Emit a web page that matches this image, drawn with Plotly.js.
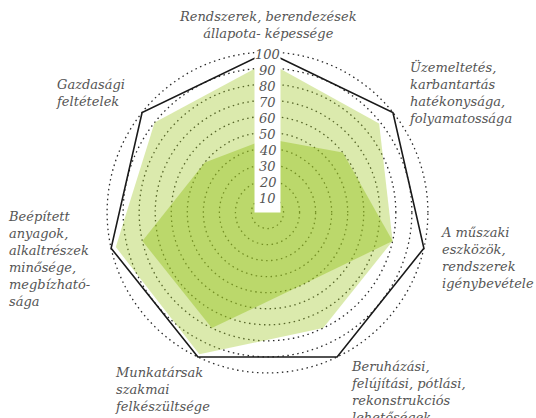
<!DOCTYPE html>
<html>
<head>
<meta charset="utf-8">
<script src="https://cdn.plot.ly/plotly-3.0.1.min.js"></script>
<style>html,body{margin:0;padding:0;background:#fff;}#chart{width:536px;height:418px;}</style>
</head>
<body>
<div id="chart"></div>
<script>
// ---- data ----
const categories = [
  "Rendszerek, berendezések<br>állapota- képessége",
  "Üzemeltetés,<br>karbantartás<br>hatékonysága,<br>folyamatossága",
  "A műszaki<br>eszközök,<br>rendszerek<br>igénybevétele",
  "Beruházási,<br>felújítási, pótlási,<br>rekonstrukciós<br>lehetőségek",
  "Munkatársak<br>szakmai<br>felkészültsége",
  "Beépített<br>anyagok,<br>alkaltrészek<br>minősége,<br>megbízható-<br>sága",
  "Gazdasági<br>feltételek"
];
const seriesOuter = [94, 89, 80, 80, 98, 97, 90];
const seriesInner = [46, 60, 80, 50, 80, 80, 50];
const seriesMax   = [100, 100, 100, 100, 100, 100, 100];
const tickVals    = [10, 20, 30, 40, 50, 60, 70, 80, 90, 100];
const tickText    = ["10", "20", "30", "40", "50", "60", "70", "80", "90", "100"];

// ---- layout constants ----
const W = 536, H = 418;
const RMAX = 101.3;
const cx = 267.5, cy = 212.5, rad = 162.5;
const domX = [(cx - rad) / W, (cx + rad) / W];
const domY = [1 - (cy + rad) / H, 1 - (cy - rad) / H];
const labelFont = {family: "DejaVu Serif", size: 13, color: "#555555", style: "italic"};
// label anchor positions in pixels: [x, y, xanchor]
const labelPos = [
  [268, 7, "center"],
  [407, 57, "left"],
  [439, 223, "left"],
  [349, 357, "left"],
  [113, 363, "left"],
  [6, 207, "left"],
  [54, 75, "left"]
];

const closedTheta = categories.concat([categories[0]]);
const traces = [
  {type: "scatterpolar", r: seriesOuter, theta: categories, fill: "toself",
   fillcolor: "rgba(160,200,40,0.38)", line: {width: 0}, mode: "lines", hoverinfo: "skip"},
  {type: "scatterpolar", r: seriesInner, theta: categories, fill: "toself",
   fillcolor: "rgba(150,195,30,0.46)", line: {width: 0}, mode: "lines", hoverinfo: "skip"},
  {type: "scatterpolar", r: seriesMax.concat([seriesMax[0]]), theta: closedTheta,
   mode: "lines", line: {color: "#1a1a1a", width: 1.6}, hoverinfo: "skip"},
  {type: "scatter", x: [], y: [], xaxis: "x", yaxis: "y", hoverinfo: "skip"}
];

const annotations = [];
tickVals.forEach((v, i) => {
  annotations.push({xref: "x", yref: "y", x: 0, y: v, text: tickText[i], showarrow: false,
    xanchor: "center", yanchor: "middle", yshift: -2,
    font: {family: "DejaVu Serif", size: 13, color: "#555555", style: "italic"}});
});
categories.forEach((c, i) => {
  const p = labelPos[i];
  annotations.push({xref: "paper", yref: "paper", x: p[0] / W, y: 1 - p[1] / H,
    xanchor: p[2], yanchor: "top", align: p[2], text: c, showarrow: false, font: labelFont});
});

const layout = {
  width: W, height: H,
  margin: {l: 0, r: 0, t: 0, b: 0, pad: 0},
  paper_bgcolor: "#ffffff", plot_bgcolor: "rgba(0,0,0,0)",
  showlegend: false,
  polar: {
    domain: {x: domX, y: domY},
    bgcolor: "#ffffff",
    radialaxis: {range: [0, RMAX], tickvals: tickVals, showticklabels: false, ticks: "",
      showline: false, gridcolor: "#2a2a2a", gridwidth: 1.3, griddash: "1.5px,3.5px", angle: 90},
    angularaxis: {direction: "clockwise", rotation: 90, showgrid: false, showline: false,
      showticklabels: false, ticks: ""}
  },
  xaxis: {domain: domX, range: [-RMAX, RMAX], visible: false, fixedrange: true},
  yaxis: {domain: domY, range: [-RMAX, RMAX], visible: false, fixedrange: true},
  shapes: [{type: "rect", xref: "x", yref: "y", x0: -8.1, x1: 8.1, y0: 0, y1: RMAX - 0.2,
    fillcolor: "#ffffff", line: {width: 0}, layer: "above"}],
  annotations: annotations
};

Plotly.newPlot("chart", traces, layout, {staticPlot: true, displayModeBar: false});
</script>
</body>
</html>
